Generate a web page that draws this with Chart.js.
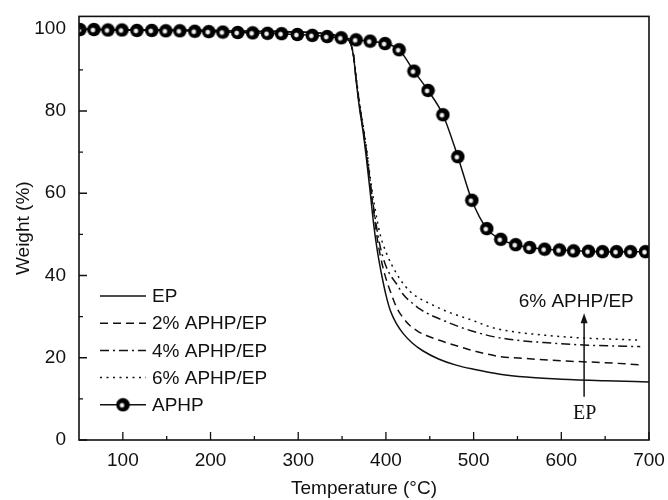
<!DOCTYPE html>
<html><head><meta charset="utf-8">
<script src="https://cdn.jsdelivr.net/npm/chart.js@4.4.1/dist/chart.umd.min.js"></script>
<style>html,body{margin:0;padding:0;background:#fff}</style>
</head><body>
<canvas id="c" width="668" height="500" style="width:668px;height:500px;display:block"></canvas>
<script>
// ---- data ----
const seriesNames = ['EP', '2% APHP/EP', '4% APHP/EP', '6% APHP/EP', 'APHP'];
const xTicks = [100, 200, 300, 400, 500, 600, 700];
const xMinorTicks = [150, 250, 350, 450, 550, 650];
const yTicks = [0, 20, 40, 60, 80, 100];
const yMinorTicks = [10, 30, 50, 70, 90];

const epTemp = [50, 150, 250, 300, 330, 345, 355, 360, 363, 366, 370, 374, 378, 382, 386, 390, 395, 400, 405, 412, 420, 430, 442, 460, 480, 500, 530, 560, 600, 650, 700];
const epWeight = [99.9, 99.7, 99.4, 99.2, 98.8, 98.3, 97.6, 96.3, 93.4, 87.5, 80.5, 74.9, 68.0, 60.4, 52.5, 46.3, 40.3, 35.3, 31.5, 28.3, 25.8, 23.6, 21.7, 19.7, 18.2, 17.2, 16.0, 15.3, 14.8, 14.4, 14.1];

const ep2Temp = [50, 150, 250, 300, 330, 345, 355, 360, 363, 366, 370, 374, 378, 382, 387, 391, 396, 401, 406, 412, 420, 427, 436, 446, 460, 473, 490, 503, 530, 560, 606, 650, 690];
const ep2Weight = [99.9, 99.7, 99.4, 99.2, 98.8, 98.3, 97.6, 96.3, 93.5, 87.8, 81.0, 75.5, 69.2, 62.0, 54.0, 47.8, 42.5, 38.6, 35.6, 32.3, 29.6, 27.9, 26.5, 25.4, 24.3, 23.4, 22.3, 21.5, 20.3, 19.8, 19.2, 18.8, 18.3];

const ep4Temp = [50, 150, 250, 300, 330, 345, 355, 360, 363, 366, 370, 374, 378, 382, 387, 393, 400, 406, 412, 420, 430, 439, 450, 462, 484, 515, 540, 580, 625, 690];
const ep4Weight = [99.9, 99.7, 99.4, 99.2, 98.8, 98.3, 97.6, 96.3, 93.6, 88.0, 81.5, 76.0, 70.0, 63.0, 55.0, 47.5, 42.3, 39.8, 38.0, 35.3, 33.3, 31.8, 30.5, 29.4, 27.5, 25.5, 24.5, 23.7, 23.1, 22.7];

const ep6Temp = [50, 150, 250, 300, 330, 345, 355, 360, 363, 366, 370, 374, 378, 382, 387, 393, 401, 412, 422, 432, 446, 469, 496, 522, 540, 580, 625, 690];
const ep6Weight = [99.9, 99.7, 99.4, 99.2, 98.8, 98.3, 97.6, 96.3, 93.7, 88.3, 82.0, 76.5, 70.8, 64.0, 57.0, 50.3, 45.2, 40.5, 37.4, 35.3, 33.6, 31.3, 29.3, 27.3, 26.5, 25.5, 24.8, 24.3];

const aphpTemp = [51, 67, 83, 99, 116, 133, 149, 165, 182, 198, 214, 231, 248, 265, 281, 299, 316, 333, 349, 366, 382, 399, 415, 432, 448, 465, 482, 498, 515, 531, 548, 564, 581, 598, 614, 631, 647, 663, 679, 696];
const aphpWeight = [99.8, 99.8, 99.7, 99.7, 99.6, 99.6, 99.5, 99.5, 99.4, 99.3, 99.2, 99.1, 99.0, 98.9, 98.8, 98.6, 98.4, 98.1, 97.8, 97.3, 97.0, 96.4, 94.9, 89.7, 85.0, 79.1, 68.9, 58.3, 51.4, 48.8, 47.5, 46.8, 46.4, 46.2, 46.0, 45.9, 45.8, 45.8, 45.8, 45.8];

const annotationTop = '6% APHP/EP';
const annotationBottom = 'EP';

// ---- helpers ----
const pts = (xs, ys) => xs.map((x, i) => ({x: x, y: ys[i]}));
const SANS = '"Liberation Sans", Arial, sans-serif';
const INK = '#111';

function makeBall() {
  const c = document.createElement('canvas');
  c.width = 15; c.height = 15;
  const g = c.getContext('2d');
  g.beginPath(); g.arc(7.5, 7.5, 6.8, 0, Math.PI * 2); g.fillStyle = '#000'; g.fill();
  const rg = g.createRadialGradient(6.5, 8, 0, 6.5, 8, 3.0);
  rg.addColorStop(0, 'rgba(255,255,255,1)');
  rg.addColorStop(0.55, 'rgba(255,255,255,0.9)');
  rg.addColorStop(1, 'rgba(255,255,255,0)');
  g.beginPath(); g.arc(6.5, 8, 3.0, 0, Math.PI * 2); g.fillStyle = rg; g.fill();
  return c;
}
const ball = makeBall();

const styles = [
  {dash: []},
  {dash: [8, 5]},
  {dash: [9, 4, 2, 4]},
  {dash: [2, 4.5]},
  {dash: []}
];

const datasets = [
  {label: seriesNames[0], data: pts(epTemp, epWeight), borderDash: styles[0].dash},
  {label: seriesNames[1], data: pts(ep2Temp, ep2Weight), borderDash: styles[1].dash},
  {label: seriesNames[2], data: pts(ep4Temp, ep4Weight), borderDash: styles[2].dash},
  {label: seriesNames[3], data: pts(ep6Temp, ep6Weight), borderDash: styles[3].dash},
  {label: seriesNames[4], data: pts(aphpTemp, aphpWeight), borderDash: [], pointStyle: ball, pointRadius: 7, order: 0}
].map((d, i) => Object.assign({
  borderColor: INK, backgroundColor: INK, borderWidth: 1.5,
  pointRadius: 0, fill: false, cubicInterpolationMode: 'monotone',
  clip: 0, order: 1
}, d));

const decor = {
  id: 'decor',
  afterDatasetsDraw(chart) {
    const {ctx, chartArea: a, scales: {x, y}} = chart;
    ctx.save();
    ctx.strokeStyle = INK;
    // frame
    ctx.lineWidth = 1.6;
    ctx.strokeRect(a.left, a.top, a.right - a.left, a.bottom - a.top);
    // inward ticks
    ctx.lineWidth = 1.3;
    ctx.beginPath();
    xTicks.forEach(v => { const p = x.getPixelForValue(v); ctx.moveTo(p, a.bottom); ctx.lineTo(p, a.bottom - 8); });
    xMinorTicks.forEach(v => { const p = x.getPixelForValue(v); ctx.moveTo(p, a.bottom); ctx.lineTo(p, a.bottom - 4); });
    yTicks.forEach(v => { const p = y.getPixelForValue(v); ctx.moveTo(a.left, p); ctx.lineTo(a.left + 8, p); });
    yMinorTicks.forEach(v => { const p = y.getPixelForValue(v); ctx.moveTo(a.left, p); ctx.lineTo(a.left + 4, p); });
    ctx.stroke();

    // legend
    ctx.font = '19px ' + SANS;
    ctx.fillStyle = INK;
    ctx.textBaseline = 'middle';
    ctx.textAlign = 'left';
    chart.data.datasets.forEach((ds, i) => {
      const ly = 296 + i * 27.2;
      ctx.beginPath();
      ctx.lineWidth = 1.5;
      ctx.setLineDash(ds.borderDash || []);
      ctx.moveTo(100, ly); ctx.lineTo(146, ly);
      ctx.stroke();
      ctx.setLineDash([]);
      if (ds.pointStyle) ctx.drawImage(ds.pointStyle, 123 - 7.5, ly - 7.5);
      ctx.fillText(ds.label, 152, ly + 1);
    });

    // annotation arrow
    const ax = x.getPixelForValue(626);
    const ay0 = y.getPixelForValue(10.5);
    const ay1 = y.getPixelForValue(30.8);
    ctx.lineWidth = 1.5;
    ctx.beginPath(); ctx.moveTo(ax, ay0); ctx.lineTo(ax, ay1 + 8); ctx.stroke();
    ctx.beginPath(); ctx.moveTo(ax, ay1); ctx.lineTo(ax - 3.5, ay1 + 10); ctx.lineTo(ax + 3.5, ay1 + 10); ctx.closePath(); ctx.fill();
    ctx.textAlign = 'center';
    ctx.fillText(annotationTop, x.getPixelForValue(617), y.getPixelForValue(33.6));
    ctx.font = '20px "Liberation Serif", "Times New Roman", serif';
    ctx.fillText(annotationBottom, x.getPixelForValue(626.6), y.getPixelForValue(6.5));
    ctx.restore();
  }
};

new Chart(document.getElementById('c'), {
  type: 'line',
  data: {datasets},
  options: {
    responsive: false,
    animation: false,
    events: [],
    layout: {padding: {top: 14, right: 19, left: 0, bottom: 0}},
    plugins: {legend: {display: false}, tooltip: {enabled: false}},
    scales: {
      x: {
        type: 'linear', min: 50, max: 700,
        afterBuildTicks: s => { s.ticks = xTicks.map(v => ({value: v})); },
        afterFit: s => { s.height = 60; },
        grid: {display: false}, border: {display: false},
        ticks: {font: {family: SANS, size: 19}, color: INK, padding: 1, maxRotation: 0},
        title: {display: true, text: 'Temperature (°C)', font: {family: SANS, size: 19}, color: INK, padding: {top: 0, bottom: 0}}
      },
      y: {
        type: 'linear', min: 0, max: 103,
        afterBuildTicks: s => { s.ticks = yTicks.map(v => ({value: v})); },
        afterFit: s => { s.width = 79; },
        grid: {display: false}, border: {display: false},
        ticks: {font: {family: SANS, size: 19}, color: INK, padding: 5},
        title: {display: true, text: 'Weight (%)', font: {family: SANS, size: 19}, color: INK, padding: {top: 12, bottom: 0}}
      }
    }
  },
  plugins: [decor]
});
</script>
</body></html>
